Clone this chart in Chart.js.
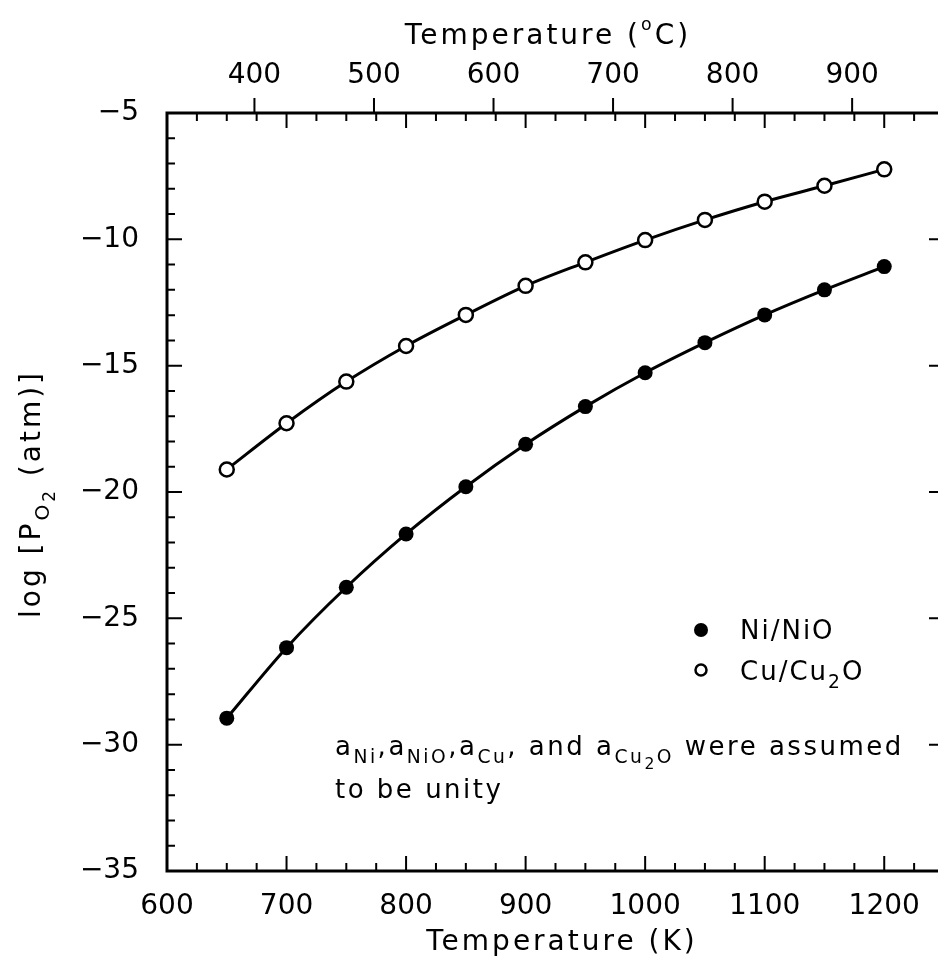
<!DOCTYPE html>
<html>
<head>
<meta charset="utf-8">
<script src="https://cdn.jsdelivr.net/npm/chart.js@4.4.1/dist/chart.umd.min.js"></script>
<style>
  html, body { margin: 0; padding: 0; background: #fff; overflow: hidden; }
  #wrap { width: 960px; height: 963px; }
</style>
</head>
<body>
<div id="wrap"><canvas id="chart" width="960" height="963"></canvas></div>
<script>
// temperatures (K) where both couples were evaluated
var kelvin = [650, 700, 750, 800, 850, 900, 950, 1000, 1050, 1100, 1150, 1200];
// log pO2 (atm)
var niNiO = [-28.95, -26.16, -23.77, -21.66, -19.79, -18.11, -16.62, -15.28, -14.09, -12.99, -12.00, -11.08];
var cuCu2O = [-19.11, -17.28, -15.63, -14.22, -12.99, -11.84, -10.91, -10.03, -9.23, -8.51, -7.88, -7.23];

var kelvinTicks = [600, 700, 800, 900, 1000, 1100, 1200];
var celsiusTicks = [400, 500, 600, 700, 800, 900];
var logTicks = [-5, -10, -15, -20, -25, -30, -35];

var FONT = "'DejaVu Sans', sans-serif";

function pts(ys) {
  return kelvin.map(function (k, i) { return { x: k, y: ys[i] }; });
}

// runs of text: level 0 normal, 1 subscript, 2 sub-subscript, -1 superscript
function runSize(lv, size) {
  if (lv === 1) return size * 0.72;
  if (lv === 2) return size * 0.6;
  if (lv === -1) return size * 0.62;
  return size;
}
function runShift(lv, size) {
  if (lv === 1) return size * 0.32;
  if (lv === 2) return size * 0.52;
  if (lv === -1) return -size * 0.5;
  return 0;
}
function richText(ctx, x, y, runs, size) {
  for (var i = 0; i < runs.length; i++) {
    var lv = runs[i][1] || 0;
    ctx.font = runSize(lv, size) + "px " + FONT;
    ctx.fillText(runs[i][0], x, y + runShift(lv, size));
    x += ctx.measureText(runs[i][0]).width;
  }
  return x;
}
function richWidth(ctx, runs, size) {
  var w = 0;
  for (var i = 0; i < runs.length; i++) {
    ctx.font = runSize(runs[i][1] || 0, size) + "px " + FONT;
    w += ctx.measureText(runs[i][0]).width;
  }
  return w;
}

var framePlugin = {
  id: "frame",
  afterDraw: function (chart) {
    var ctx = chart.ctx;
    var a = chart.chartArea;
    var xs = chart.scales.x, ys = chart.scales.y;
    ctx.save();
    ctx.strokeStyle = "#000";
    ctx.fillStyle = "#000";
    ctx.lineWidth = 3;
    ctx.strokeRect(a.left, a.top, a.right - a.left, a.bottom - a.top);

    ctx.lineWidth = 2;
    ctx.beginPath();
    // kelvin ticks, inward, bottom and top
    for (var k = 600; k <= 1250; k += 25) {
      var px = xs.getPixelForValue(k);
      var len = (k % 100 === 0) ? 15 : 8;
      ctx.moveTo(px, a.bottom); ctx.lineTo(px, a.bottom - len);
      ctx.moveTo(px, a.top); ctx.lineTo(px, a.top + len);
    }
    // log ticks, inward, left and right
    for (var v = -35; v <= -5; v += 1) {
      var py = ys.getPixelForValue(v);
      var l2 = (v % 5 === 0) ? 15 : 8;
      ctx.moveTo(a.left, py); ctx.lineTo(a.left + l2, py);
      ctx.moveTo(a.right, py); ctx.lineTo(a.right - (v % 5 === 0 ? 15 : 6), py);
    }
    // celsius ticks, outward on top
    celsiusTicks.forEach(function (c) {
      var p = xs.getPixelForValue(c + 273.15);
      ctx.moveTo(p, a.top); ctx.lineTo(p, a.top - 15);
    });
    ctx.stroke();

    ctx.textBaseline = "alphabetic";

    // axis titles
    ctx.letterSpacing = "3px";
    var bRuns = [["Temperature (K)"]];
    var bw = richWidth(ctx, bRuns, 28);
    richText(ctx, 562 - bw / 2, 950, bRuns, 28);
    var tRuns = [["Temperature ("], ["o", -1], ["C)"]];
    var tw = richWidth(ctx, tRuns, 28);
    richText(ctx, 548 - tw / 2, 44, tRuns, 28);

    // y axis title
    var yRuns = [["log [P"], ["O", 1], ["2", 2], [" (atm)]"]];
    var w = richWidth(ctx, yRuns, 28);
    ctx.save();
    ctx.translate(40, (a.top + a.bottom) / 2 + 2);
    ctx.rotate(-Math.PI / 2);
    richText(ctx, -w / 2, 0, yRuns, 28);
    ctx.restore();

    // legend
    ctx.letterSpacing = "2px";
    ctx.beginPath();
    ctx.arc(701, 630, 7, 0, Math.PI * 2);
    ctx.fill();
    ctx.beginPath();
    ctx.lineWidth = 2.5;
    ctx.arc(701, 670, 5.5, 0, Math.PI * 2);
    ctx.stroke();
    richText(ctx, 740, 639, [["Ni/NiO"]], 26);
    richText(ctx, 740, 680, [["Cu/Cu"], ["2", 1], ["O"]], 26);

    // note
    ctx.letterSpacing = "2.5px";
    richText(ctx, 335, 755, [["a"], ["Ni", 1], [","], ["a"], ["NiO", 1], [","], ["a"], ["Cu", 1],
      [", and "], ["a"], ["Cu", 1], ["2", 2], ["O", 1], [" were assumed"]], 26);
    richText(ctx, 335, 798, [["to be unity"]], 26);
    ctx.restore();
  }
};

new Chart(document.getElementById("chart"), {
  type: "line",
  data: {
    datasets: [
      {
        label: "Ni/NiO",
        data: pts(niNiO),
        borderColor: "#000",
        borderWidth: 3,
        pointRadius: 7.5,
        pointBackgroundColor: "#000",
        pointBorderWidth: 0,
        cubicInterpolationMode: "monotone"
      },
      {
        label: "Cu/Cu2O",
        data: pts(cuCu2O),
        borderColor: "#000",
        borderWidth: 3,
        pointRadius: 7,
        pointBackgroundColor: "#fff",
        pointBorderColor: "#000",
        pointBorderWidth: 2.5,
        cubicInterpolationMode: "monotone"
      }
    ]
  },
  options: {
    responsive: false,
    animation: false,
    layout: { padding: { left: 0, top: 0, right: 16, bottom: 0 } },
    plugins: { legend: { display: false }, tooltip: { enabled: false } },
    scales: {
      x: {
        type: "linear",
        position: "bottom",
        min: 600,
        max: 1250,
        afterBuildTicks: function (s) { s.ticks = kelvinTicks.map(function (v) { return { value: v }; }); },
        afterFit: function (s) { s.height = 92; },
        grid: { display: false },
        border: { display: false },
        ticks: {
          color: "#000", font: { family: FONT, size: 28 }, padding: 11, maxRotation: 0,
          callback: function (v) { return String(v); }
        }
      },
      x2: {
        type: "linear",
        position: "top",
        min: 600,
        max: 1250,
        afterBuildTicks: function (s) { s.ticks = celsiusTicks.map(function (c) { return { value: c + 273.15 }; }); },
        afterFit: function (s) { s.height = 113; },
        grid: { display: false },
        border: { display: false },
        ticks: {
          color: "#000", font: { family: FONT, size: 28 }, padding: 12, maxRotation: 0,
          callback: function (v) { return String(Math.round(v - 273.15)); }
        }
      },
      y: {
        type: "linear",
        position: "left",
        min: -35,
        max: -5,
        afterBuildTicks: function (s) { s.ticks = logTicks.map(function (v) { return { value: v }; }); },
        afterFit: function (s) { s.width = 167; },
        grid: { display: false },
        border: { display: false },
        ticks: {
          color: "#000", font: { family: FONT, size: 28 }, padding: 20,
          callback: function (v) { return String(v).replace("-", "\u2212"); }
        }
      }
    }
  },
  plugins: [framePlugin]
});
</script>
</body>
</html>
